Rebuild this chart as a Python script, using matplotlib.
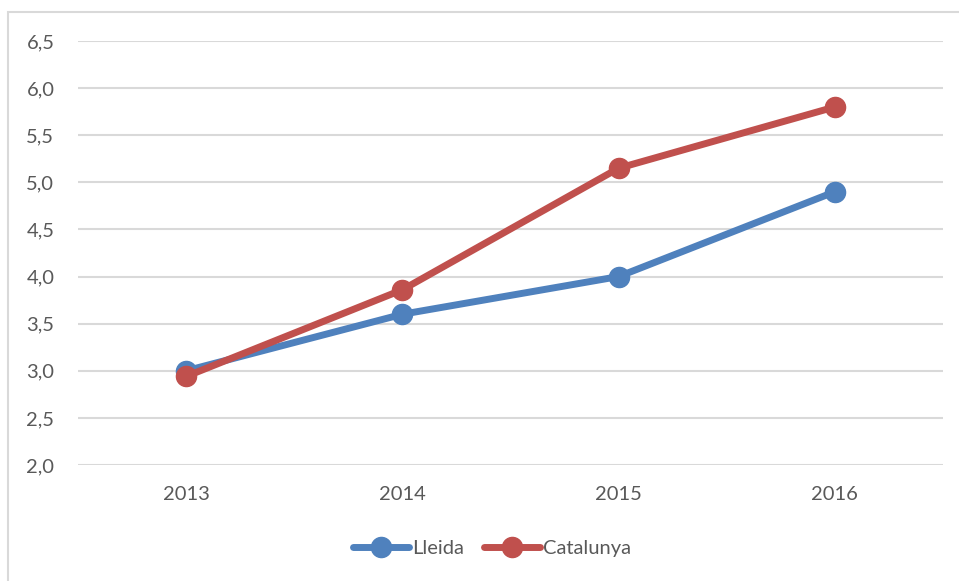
import matplotlib.pyplot as plt
from matplotlib.patches import Rectangle

years = ["2013", "2014", "2015", "2016"]
lleida = [3.0, 3.6, 4.0, 4.9]
catalunya = [2.94, 3.86, 5.15, 5.8]
y_ticks = [2.0, 2.5, 3.0, 3.5, 4.0, 4.5, 5.0, 5.5, 6.0, 6.5]

plt.rcParams["font.family"] = ["Lato", "DejaVu Sans"]
text_color = "#595959"
grid_color = "#d9d9d9"

fig = plt.figure(figsize=(9.59, 5.81), dpi=100)
ax = fig.add_axes([78 / 959, 116 / 581, 865 / 959, 424 / 581])

# outer chart frame (runs off the right and bottom edges)
fig.patches.append(
    Rectangle((8 / 959, -0.05), 1.0, (581 - 12) / 581 + 0.05,
              transform=fig.transFigure, fill=False,
              edgecolor=grid_color, linewidth=1.5)
)

x = range(len(years))
ax.plot(x, lleida, color="#4f81bd", linewidth=5, marker="o",
        markersize=14.5, label="Lleida", solid_capstyle="round")
ax.plot(x, catalunya, color="#c0504d", linewidth=5, marker="o",
        markersize=14.5, label="Catalunya", solid_capstyle="round")

ax.set_xlim(-0.5, 3.5)
ax.set_ylim(2.0, 6.5)
ax.set_yticks(y_ticks)
ax.set_yticklabels([f"{v:.1f}".replace(".", ",") for v in y_ticks])
ax.set_xticks(list(x))
ax.set_xticklabels(years)
ax.tick_params(length=0, labelsize=14.5, colors=text_color)
ax.tick_params(axis="y", pad=17)
ax.tick_params(axis="x", pad=15)
ax.grid(axis="y", color=grid_color, linewidth=1.5)
ax.set_axisbelow(True)
for s in ax.spines.values():
    s.set_visible(False)

leg = fig.legend(loc="center", bbox_to_anchor=(492 / 959, 1 - 548 / 581),
                 ncol=2, frameon=False, fontsize=14.5, handlelength=2.8,
                 columnspacing=1.0, handletextpad=0.15)
for t in leg.get_texts():
    t.set_color(text_color)

fig.savefig("out.png", dpi=100)
